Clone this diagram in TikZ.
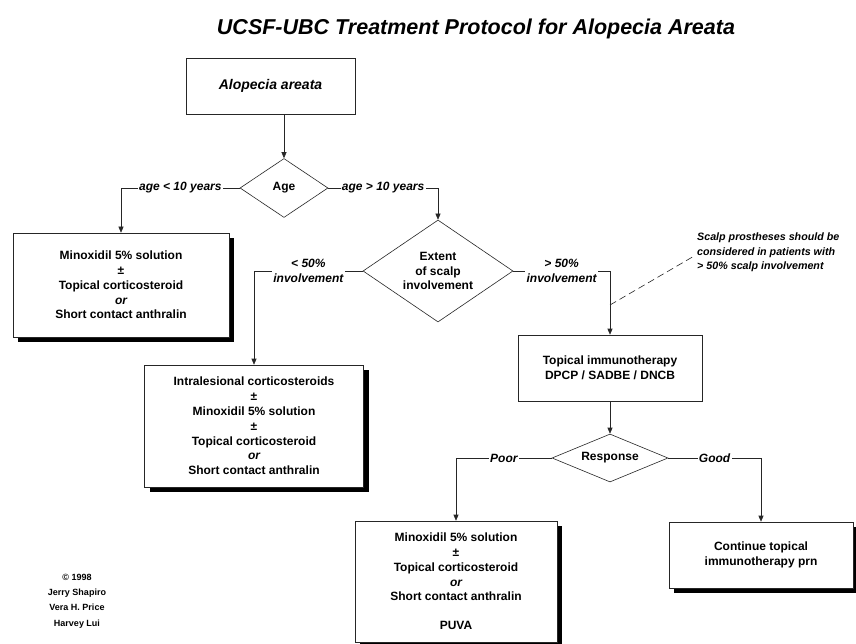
\documentclass[tikz,border=0pt]{standalone}
\usepackage{fontspec}
\setmainfont{Liberation Sans}
\usetikzlibrary{shapes.geometric,arrows.meta,shadows}
\begin{document}
\begin{tikzpicture}[x=1pt,y=-1pt,
  box/.style={draw=black!85, line width=0.6pt, fill=white, rectangle, align=center, inner sep=0pt,
    font=\fontsize{12}{14.8}\selectfont\bfseries},
  sbox/.style={box, drop shadow={shadow xshift=5pt, shadow yshift=-5pt, fill=black, opacity=1}},
  dec/.style={diamond, draw=black!85, line width=0.6pt, fill=white, inner sep=0pt, align=center,
    font=\fontsize{12}{14.8}\selectfont\bfseries},
  lab/.style={fill=white, inner sep=1.2pt, align=center, font=\fontsize{12}{14.5}\selectfont\bfseries\itshape},
  conn/.style={draw=black!85, line width=0.6pt},
  arr/.style={conn, -{Triangle[length=6pt,width=5pt]}},
  dashline/.style={conn, dash pattern=on 7pt off 4pt}]
\useasboundingbox (0,0) rectangle (856,644);
\fill[white] (0,0) rectangle (856,644);

\node (title) at (476,29) {\fontsize{21.5}{24}\selectfont\bfseries\itshape UCSF-UBC Treatment Protocol for Alopecia Areata};

\node[box, minimum width=169pt, minimum height=56pt] (alo) at (270.5,86)
  {\fontsize{14}{16}\selectfont\bfseries\itshape Alopecia areata};

\node[dec, minimum width=88pt, minimum height=59pt] (age) at (284,188) {Age};

\node[sbox, minimum width=216pt, minimum height=104pt] (b1) at (121,285)
  {Minoxidil 5\% solution\\±\\Topical corticosteroid\\{\itshape or}\\Short contact anthralin};

\node[dec, aspect=1.5, minimum width=150pt, minimum height=102pt] (ext) at (438,271)
  {Extent\\of scalp\\involvement};

\node[sbox, minimum width=219pt, minimum height=122pt] (b2) at (254,426)
  {Intralesional corticosteroids\\±\\Minoxidil 5\% solution\\±\\Topical corticosteroid\\{\itshape or}\\Short contact anthralin};

\node[box, minimum width=184pt, minimum height=66pt] (topi) at (610,368)
  {Topical immunotherapy\\DPCP / SADBE / DNCB};

\node[anchor=north west, align=left, inner sep=0pt,
  font=\fontsize{10.7}{14.5}\selectfont\bfseries\itshape] (note) at (697,233)
  {Scalp prostheses should be\\considered in patients with\\> 50\% scalp involvement};

\node[dec, aspect=2.4, minimum width=116pt, minimum height=48pt] (resp) at (610,458) {Response};

\node[sbox, minimum width=202pt, minimum height=121pt] (b3) at (456,581.5)
  {Minoxidil 5\% solution\\±\\Topical corticosteroid\\{\itshape or}\\Short contact anthralin\\[14pt]PUVA};

\node[sbox, minimum width=184pt, minimum height=66pt] (b4) at (761,555)
  {Continue topical\\immunotherapy prn};

\node[align=center, inner sep=0pt, font=\fontsize{9}{15.3}\selectfont\bfseries] (cred) at (77,601)
  {© 1998\\Jerry Shapiro\\Vera H. Price\\Harvey Lui};

\draw[arr] (age.north |- alo.south) -- (age.north);
\draw[arr] (age.west) -| node[lab, pos=0.25] {age < 10 years} (b1.north);
\draw[arr] (age.east) -| node[lab, pos=0.25] {age > 10 years} (ext.north);
\draw[arr] (ext.west) -| node[lab, pos=0.25] {< 50\%\\involvement} (b2.north);
\draw[arr] (ext.east) -| node[lab, pos=0.25] {> 50\%\\involvement} (topi.north);
\coordinate (dj) at (610,305);
\draw[dashline] (dj) -- ([xshift=-4pt, yshift=-4pt]note.west);
\draw[arr] (topi.south) -- (resp.north);
\draw[arr] (resp.west) -| node[lab, pos=0.25] {Poor} (b3.north);
\draw[arr] (resp.east) -| node[lab, pos=0.25] {Good} (b4.north);
\end{tikzpicture}
\end{document}
